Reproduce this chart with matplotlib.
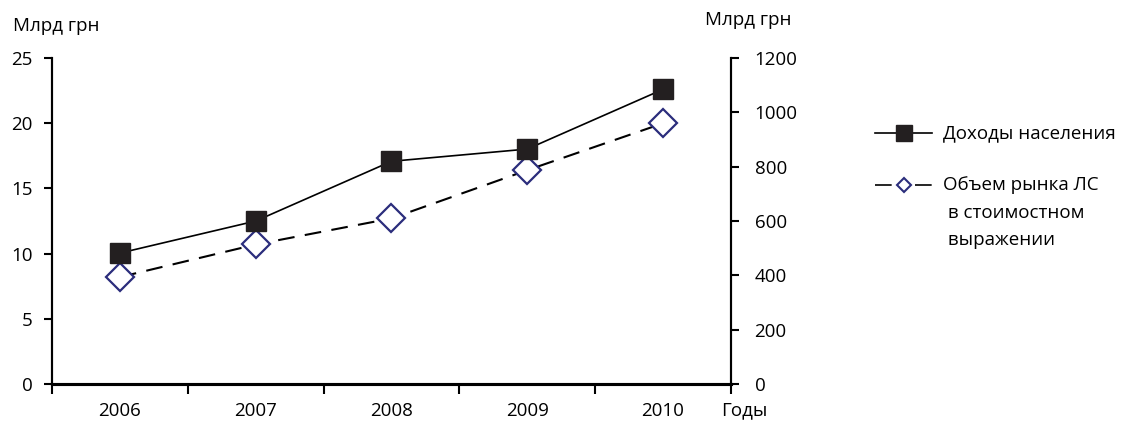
import numpy as np
import matplotlib
matplotlib.use('Agg')
from matplotlib import pyplot as plt
from matplotlib.lines import Line2D

plt.rcParams['font.family'] = ['Open Sans', 'DejaVu Sans']

years = ['2006', '2007', '2008', '2009', '2010']
income = [482, 600, 820, 865, 1085]          # Доходы населения, right axis
market = [8.2, 10.7, 12.7, 16.4, 20.0]       # Объем рынка ЛС, left axis
left_ticks = [0, 5, 10, 15, 20, 25]
right_ticks = [0, 200, 400, 600, 800, 1000, 1200]

navy = '#2b2d7c'
fs = 13.5

fig = plt.figure(figsize=(11.24, 4.21), dpi=100)
ax = fig.add_axes([0.0463, 0.088, 0.604, 0.774])
ax2 = ax.twinx()

x = np.arange(len(years)) + 0.5

ax.plot(x, market, color='black', lw=1.5, dashes=(8, 5), zorder=2)
ax.plot(x, market, ls='none', marker='D', ms=14, mfc='white', mec=navy, mew=1.6, zorder=3)
ax2.plot(x, income, color='black', lw=1.2, marker='s', ms=14, mfc='#231f20', mec='#231f20', zorder=3)

ax.set_xlim(0, len(years))
ax.set_ylim(0, 25)
ax2.set_ylim(0, 1200)
ax.set_yticks(left_ticks)
ax2.set_yticks(right_ticks)
ax.set_xticks(np.arange(len(years) + 1))
ax.set_xticklabels([])
ax.set_xticks(x, minor=True)
ax.set_xticklabels(years, minor=True, fontsize=fs)
ax.tick_params(axis='x', which='minor', length=0, pad=13)
ax.tick_params(axis='x', which='major', length=7, width=1.5, direction='out')
ax.tick_params(axis='y', length=6, width=1.5, labelsize=fs, pad=8)
ax2.tick_params(axis='y', length=6, width=1.5, labelsize=fs, pad=11)

for a in (ax, ax2):
    a.spines['top'].set_visible(False)
    a.spines['left'].set_linewidth(1.5)
    a.spines['right'].set_linewidth(1.5)
    a.spines['bottom'].set_linewidth(2.2)

fig.text(0.012, 0.938, 'Млрд грн', fontsize=fs, va='center')
fig.text(0.627, 0.952, 'Млрд грн', fontsize=fs, va='center')
fig.text(0.642, 0.026, 'Годы', fontsize=fs, va='center')

# legend drawn by hand to follow the original layout
y1 = 1 - 133 / 421
y2 = 1 - 185 / 421
x0, x1 = 875 / 1124, 932 / 1124
fig.add_artist(Line2D([x0, x1], [y1, y1], transform=fig.transFigure, color='black', lw=1.2))
fig.add_artist(Line2D([(x0 + x1) / 2], [y1], transform=fig.transFigure, ls='none',
                      marker='s', ms=11, mfc='#231f20', mec='#231f20'))
fig.add_artist(Line2D([x0, x1], [y2, y2], transform=fig.transFigure, color='black', lw=1.2,
                      dashes=(10, 14)))
fig.add_artist(Line2D([(x0 + x1) / 2], [y2], transform=fig.transFigure, ls='none',
                      marker='D', ms=7, mfc='white', mec=navy, mew=1.5))
fig.text(943 / 1124, y1, 'Доходы населения', fontsize=fs, va='center')
fig.text(943 / 1124, y2 + 0.021, 'Объем рынка ЛС\n в стоимостном\n выражении', fontsize=fs,
         va='top', linespacing=1.68)

fig.savefig('out.png', dpi=100)
